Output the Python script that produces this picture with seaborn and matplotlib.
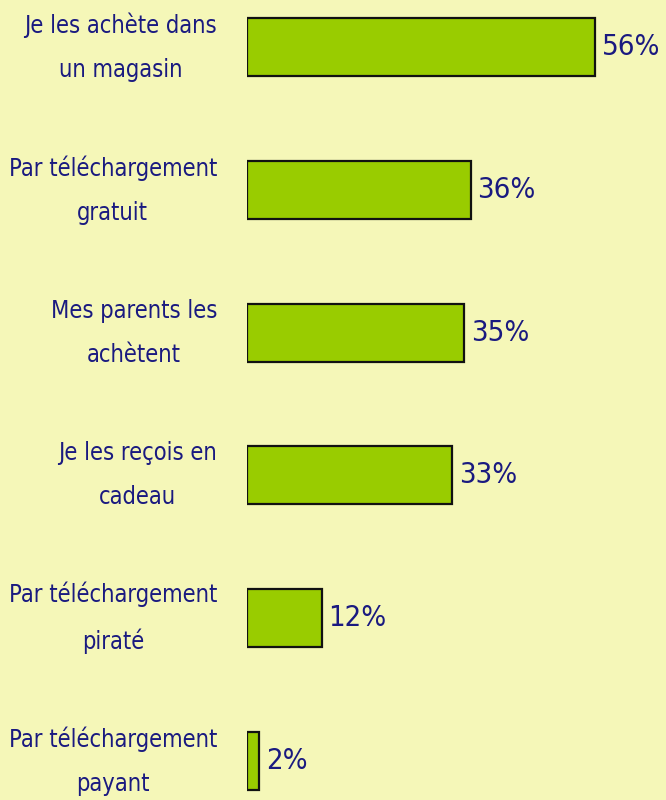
import matplotlib
matplotlib.use("Agg")
import matplotlib.pyplot as plt
import seaborn as sns
import pandas as pd

categories = [
    "Je les achète dans\nun magasin",
    "Par téléchargement\ngratuit",
    "Mes parents les\nachètent",
    "Je les reçois en\ncadeau",
    "Par téléchargement\npiraté",
    "Par téléchargement\npayant",
]
values = [56, 36, 35, 33, 12, 2]
value_labels = ["56%", "36%", "35%", "33%", "12%", "2%"]

BG = "#F5F7B8"
BAR = "#99CC00"
TXT = "#1A1A80"
FONT = ["DejaVu Sans"]

sns.set_theme(style="white")
plt.rcParams["font.family"] = FONT
plt.rcParams["font.stretch"] = "condensed"

df = pd.DataFrame({"cat": categories, "val": values})

fig = plt.figure(figsize=(6.66, 8.0), dpi=100, facecolor=BG)
ax = fig.add_axes([247 / 666, 0, 419 / 666, 1])
ax.set_facecolor(BG)

sns.barplot(data=df, x="val", y="cat", orient="h", color=BAR, saturation=1,
            width=0.406, edgecolor="#111111", linewidth=1.6, ax=ax)

ax.set_xlim(0, 419 / 6.21)
ax.set_ylim(5.273, -0.329)
ax.set_xlabel("")
ax.set_ylabel("")
ax.set_xticks([])
for s in ax.spines.values():
    s.set_visible(False)

ax.tick_params(axis="y", length=0, pad=21.6, labelsize=17, labelcolor=TXT)
for t in ax.get_yticklabels():
    t.set_multialignment("center")
    t.set_verticalalignment("center")
    t.set_linespacing(2.05)
    t.set_fontstretch("condensed")

for i, (v, lab) in enumerate(zip(values, value_labels)):
    ax.annotate(lab, xy=(v, i), xytext=(5, 0), textcoords="offset points",
                va="center", ha="left", fontsize=21, color=TXT,
                fontstretch="condensed")

fig.savefig("out.png", dpi=100, facecolor=BG)
